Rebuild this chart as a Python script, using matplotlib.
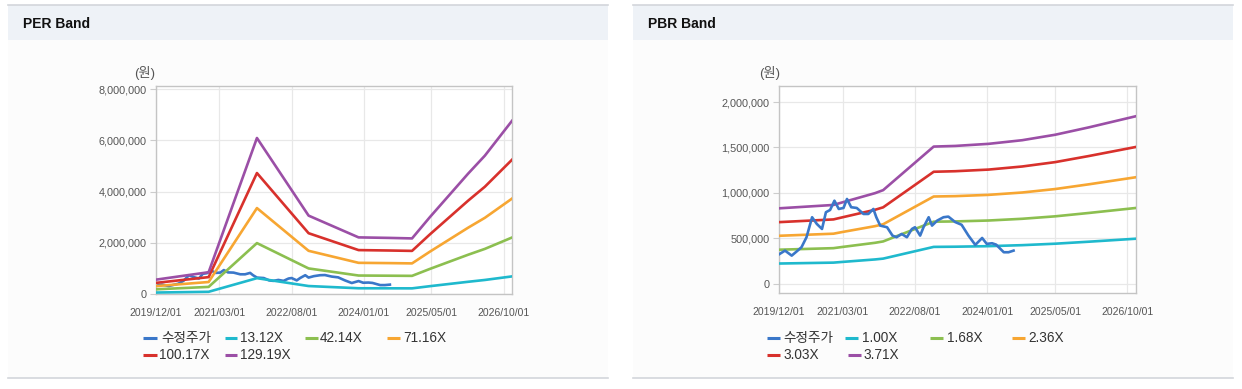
import matplotlib
matplotlib.use('Agg')
import matplotlib.pyplot as plt
import matplotlib.dates as mdates
from matplotlib.lines import Line2D
from matplotlib.patches import Rectangle
from matplotlib.ticker import FuncFormatter
import pandas as pd

# ---------------- DATA ----------------
price_dates = ["2019-12-01", "2020-01-13", "2020-03-01", "2020-04-07", "2020-05-10", "2020-06-15",
               "2020-07-25", "2020-08-28", "2020-10-04", "2020-11-01", "2020-12-01", "2021-01-01",
               "2021-02-01", "2021-03-07", "2021-04-01", "2021-05-01", "2021-06-10", "2021-07-28",
               "2021-09-01", "2021-10-07", "2021-10-28", "2021-11-25", "2022-01-13", "2022-02-21",
               "2022-03-22", "2022-04-28", "2022-06-04", "2022-07-10", "2022-08-01", "2022-09-07",
               "2022-10-01", "2022-11-07", "2022-12-01", "2023-01-07", "2023-02-21", "2023-03-28",
               "2023-05-16", "2023-07-01", "2023-08-19", "2023-10-07", "2023-11-25", "2023-12-28",
               "2024-02-04", "2024-03-04", "2024-04-28", "2024-06-01", "2024-07-07"]
price_values = [325, 366, 311, 359, 403, 513, 733, 659, 604, 788, 813, 915,
                824, 835, 934, 843, 835, 769, 769, 824, 733, 641, 623, 531,
                513, 549, 513, 604, 623, 531, 623, 733, 641, 696, 733, 740,
                680, 650, 531, 429, 505, 440, 447, 432, 348, 348, 366]  # thousand KRW

per_dates = ["2019-12-01", "2020-12-13", "2021-11-25", "2022-12-01", "2023-11-25", "2024-07-01",
             "2024-12-13", "2025-04-20", "2026-01-20", "2026-05-20", "2026-12-01"]
per_labels = ["13.12X", "42.14X", "71.16X", "100.17X", "129.19X"]
per_13 = [0.057, 0.086, 0.618, 0.311, 0.224, 0.222, 0.220, 0.305, 0.477, 0.548, 0.687]   # million KRW
per_42 = [0.183, 0.277, 1.987, 0.998, 0.721, 0.714, 0.708, 0.979, 1.533, 1.761, 2.205]
per_71 = [0.308, 0.468, 3.354, 1.686, 1.217, 1.206, 1.195, 1.652, 2.589, 2.974, 3.724]
per_100 = [0.434, 0.659, 4.722, 2.373, 1.714, 1.698, 1.683, 2.326, 3.644, 4.187, 5.241]
per_129 = [0.560, 0.850, 6.090, 3.060, 2.210, 2.190, 2.170, 3.000, 4.700, 5.400, 6.760]

pbr_dates = ["2019-12-01", "2020-12-25", "2021-02-21", "2021-10-19", "2021-12-16", "2022-12-13",
             "2023-05-16", "2024-01-10", "2024-09-07", "2025-05-01", "2025-12-28", "2026-12-01"]
pbr_labels = ["1.00X", "1.68X", "2.36X", "3.03X", "3.71X"]
pbr_100 = [224, 234, 241, 269, 278, 407, 409, 415, 426, 442, 464, 497]   # thousand KRW
pbr_168 = [376, 393, 405, 452, 467, 684, 687, 697, 716, 743, 780, 835]
pbr_236 = [529, 552, 569, 635, 656, 961, 965, 979, 1005, 1043, 1095, 1173]
pbr_303 = [679, 709, 730, 815, 842, 1233, 1239, 1257, 1291, 1339, 1406, 1506]
pbr_371 = [831, 868, 894, 998, 1031, 1510, 1517, 1540, 1580, 1640, 1721, 1844]

xtick_dates = ["2019-12-01", "2021-03-01", "2022-08-01", "2024-01-01", "2025-05-01", "2026-10-01"]
per_yticks = [0, 2000000, 4000000, 6000000, 8000000]
pbr_yticks = [0, 500000, 1000000, 1500000, 2000000]
price_label = "수정주가"
unit_label = "(원)"

# ---------------- STYLE ----------------
plt.rcParams['font.family'] = ['Liberation Sans', 'Noto Sans CJK KR', 'DejaVu Sans']
C_PRICE = '#3a77c9'
C_BANDS = ['#1fb9cd', '#8cbf50', '#f7a632', '#d8312c', '#9b4fa6']

W, H = 1242, 389
fig = plt.figure(figsize=(W / 100, H / 100), dpi=100)
fig.patch.set_facecolor('white')


def fx(px):
    return px / W


def fy(py):
    return 1 - py / H


def panel(x0, x1, title):
    fig.add_artist(Rectangle((fx(x0), fy(378)), (x1 - x0) / W, (378 - 5) / H,
                             transform=fig.transFigure, facecolor='#fcfcfc',
                             edgecolor='none', zorder=0))
    fig.add_artist(Rectangle((fx(x0), fy(40)), (x1 - x0) / W, (40 - 5) / H,
                             transform=fig.transFigure, facecolor='#eef2f7',
                             edgecolor='none', zorder=0))
    for yy in (5, 378):
        fig.add_artist(Line2D([fx(x0), fx(x1)], [fy(yy), fy(yy)], transform=fig.transFigure,
                              color='#d3d6db', lw=1.2, zorder=1))
    fig.text(fx(x0 + 15), fy(24), title, fontsize=10, fontweight='bold',
             color='#111111', va='center', ha='left')


panel(8, 608, "PER Band")
panel(633, 1233, "PBR Band")


def style_axes(ax, yticks, ylim):
    ax.set_facecolor('white')
    ax.set_xlim(pd.Timestamp("2019-12-01"), pd.Timestamp("2026-12-01"))
    ax.set_ylim(*ylim)
    ax.set_yticks(yticks)
    ax.yaxis.set_major_formatter(FuncFormatter(lambda v, p: f"{int(round(v)):,}"))
    ax.set_xticks([pd.Timestamp(d) for d in xtick_dates])
    ax.xaxis.set_major_formatter(mdates.DateFormatter("%Y/%m/%d"))
    ax.grid(True, color='#e8e8e8', lw=0.9)
    ax.set_axisbelow(True)
    for s in ax.spines.values():
        s.set_color('#c4c4c4')
        s.set_linewidth(1.0)
    ax.tick_params(axis='y', labelsize=7.8, labelcolor='#555555', color='#cccccc', length=4, pad=3)
    ax.tick_params(axis='x', labelsize=7.5, labelcolor='#555555', color='#cccccc', length=0, pad=10)


def legend(items, rows_y, positions):
    for (label, color), (row, hx0, hx1, tx) in zip(items, positions):
        y = fy(rows_y[row])
        fig.add_artist(Line2D([fx(hx0), fx(hx1)], [y, y], transform=fig.transFigure,
                              color=color, lw=2.2, solid_capstyle='butt'))
        fig.text(fx(tx), y, label, fontsize=9.8, color='#333333', va='center', ha='left')


# ---------------- PER ----------------
ax1 = fig.add_axes([fx(156), fy(294), (512 - 156) / W, (294 - 86) / H])
style_axes(ax1, per_yticks, (0, 8120000))
pd_price = pd.to_datetime(price_dates)
ax1.plot(pd_price, [v * 1000 for v in price_values], color=C_PRICE, lw=1.9, zorder=2)
pd_per = pd.to_datetime(per_dates)
for vals, col in zip([per_13, per_42, per_71, per_100, per_129], C_BANDS):
    ax1.plot(pd_per, [v * 1e6 for v in vals], color=col, lw=1.9, zorder=3)
fig.text(fx(134), fy(73), unit_label, fontsize=9.5, color='#555555', va='center', ha='left')

legend([(price_label, C_PRICE)] + list(zip(per_labels, C_BANDS)),
       [338, 355],
       [(0, 143, 157, 161), (0, 225, 237, 240), (0, 305, 318, 320), (0, 387, 400, 403),
        (1, 143, 157, 159), (1, 225, 237, 240)])

# ---------------- PBR ----------------
ax2 = fig.add_axes([fx(779), fy(293), (1136 - 779) / W, (293 - 86) / H])
style_axes(ax2, pbr_yticks, (-100000, 2176000))
ax2.plot(pd_price, [v * 1000 for v in price_values], color=C_PRICE, lw=1.9, zorder=4)
pd_pbr = pd.to_datetime(pbr_dates)
for vals, col in zip([pbr_100, pbr_168, pbr_236, pbr_303, pbr_371], C_BANDS):
    ax2.plot(pd_pbr, [v * 1000 for v in vals], color=col, lw=1.9, zorder=3)
fig.text(fx(759), fy(73), unit_label, fontsize=9.5, color='#555555', va='center', ha='left')

legend([(price_label, C_PRICE)] + list(zip(pbr_labels, C_BANDS)),
       [338, 355],
       [(0, 767, 780, 783), (0, 845, 858, 862), (0, 930, 943, 947), (0, 1012, 1025, 1028),
        (1, 767, 780, 783), (1, 848, 861, 864)])

fig.savefig("out.png", dpi=100, facecolor=fig.get_facecolor())
